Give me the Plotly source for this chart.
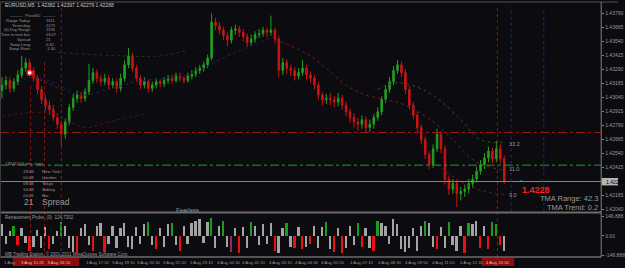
import plotly.graph_objects as go

W, H = 625, 268

# ---------------- data ----------------
open_ = [1.4310,1.4315,1.4319,1.4312,1.4318,1.4324,1.4330,1.4335,1.4328,1.4321,
1.4311,1.4302,1.4297,1.4293,1.4286,1.4280,1.4271,1.4282,1.4295,1.4303,
1.4306,1.4303,1.4309,1.4319,1.4326,1.4321,1.4318,1.4321,1.4315,1.4318,
1.4312,1.4321,1.4333,1.4341,1.4330,1.4321,1.4315,1.4318,1.4312,1.4315,
1.4318,1.4316,1.4319,1.4321,1.4319,1.4323,1.4321,1.4319,1.4323,1.4325,
1.4328,1.4330,1.4333,1.4339,1.4371,1.4368,1.4364,1.4359,1.4355,1.4364,
1.4365,1.4362,1.4358,1.4353,1.4356,1.4360,1.4361,1.4364,1.4362,1.4364,
1.4356,1.4328,1.4335,1.4330,1.4328,1.4323,1.4326,1.4330,1.4324,1.4321,
1.4315,1.4306,1.4302,1.4303,1.4302,1.4300,1.4303,1.4297,1.4291,1.4286,
1.4282,1.4280,1.4284,1.4277,1.4280,1.4286,1.4291,1.4302,1.4311,1.4318,
1.4328,1.4333,1.4326,1.4311,1.4297,1.4288,1.4277,1.4266,1.4253,1.4244,
1.4258,1.4271,1.4258,1.4231,1.4222,1.4227,1.4218,1.4220,1.4222,1.4227,
1.4231,1.4238,1.4244,1.4250,1.4256,1.4249,1.4258,1.4249]
high = [1.4322,1.4323,1.4322,1.4321,1.4328,1.4341,1.4339,1.4338,1.4331,1.4324,
1.4314,1.4306,1.4301,1.4297,1.4290,1.4283,1.4285,1.4298,1.4307,1.4310,
1.4309,1.4312,1.4334,1.4330,1.4329,1.4324,1.4325,1.4324,1.4321,1.4321,
1.4325,1.4337,1.4348,1.4344,1.4333,1.4324,1.4322,1.4320,1.4318,1.4321,
1.4320,1.4322,1.4324,1.4324,1.4326,1.4326,1.4323,1.4326,1.4328,1.4331,
1.4333,1.4336,1.4342,1.4379,1.4375,1.4371,1.4367,1.4362,1.4367,1.4369,
1.4368,1.4365,1.4361,1.4360,1.4363,1.4365,1.4367,1.4366,1.4377,1.4366,
1.4359,1.4339,1.4338,1.4333,1.4331,1.4330,1.4337,1.4333,1.4327,1.4324,
1.4318,1.4309,1.4307,1.4308,1.4305,1.4308,1.4306,1.4300,1.4294,1.4290,
1.4286,1.4288,1.4287,1.4284,1.4289,1.4295,1.4305,1.4315,1.4322,1.4332,
1.4337,1.4336,1.4329,1.4314,1.4300,1.4291,1.4280,1.4269,1.4256,1.4262,
1.4276,1.4274,1.4261,1.4234,1.4231,1.4230,1.4224,1.4226,1.4231,1.4235,
1.4242,1.4248,1.4254,1.4260,1.4259,1.4265,1.4262,1.4252]
low = [1.4303,1.4311,1.4308,1.4309,1.4315,1.4321,1.4327,1.4325,1.4318,1.4307,
1.4298,1.4292,1.4288,1.4283,1.4276,1.4260,1.4267,1.4279,1.4292,1.4299,
1.4299,1.4300,1.4306,1.4316,1.4317,1.4314,1.4315,1.4311,1.4312,1.4308,
1.4309,1.4318,1.4330,1.4327,1.4318,1.4311,1.4312,1.4308,1.4309,1.4312,
1.4313,1.4313,1.4316,1.4316,1.4317,1.4318,1.4316,1.4317,1.4320,1.4322,
1.4325,1.4327,1.4330,1.4337,1.4364,1.4360,1.4355,1.4350,1.4352,1.4360,
1.4358,1.4354,1.4349,1.4350,1.4353,1.4357,1.4358,1.4358,1.4359,1.4352,
1.4322,1.4324,1.4325,1.4323,1.4319,1.4320,1.4323,1.4320,1.4317,1.4311,
1.4302,1.4297,1.4298,1.4297,1.4295,1.4296,1.4293,1.4287,1.4281,1.4277,
1.4274,1.4276,1.4272,1.4273,1.4276,1.4283,1.4288,1.4299,1.4308,1.4315,
1.4325,1.4322,1.4307,1.4293,1.4284,1.4273,1.4262,1.4249,1.4240,1.4241,
1.4255,1.4254,1.4226,1.4217,1.4218,1.4206,1.4212,1.4215,1.4218,1.4223,
1.4228,1.4235,1.4240,1.4246,1.4245,1.4246,1.4245,1.4227]
close = [1.4315,1.4319,1.4312,1.4318,1.4324,1.4330,1.4335,1.4328,1.4321,1.4311,
1.4302,1.4297,1.4293,1.4286,1.4280,1.4271,1.4282,1.4295,1.4303,1.4306,
1.4303,1.4309,1.4319,1.4326,1.4321,1.4318,1.4321,1.4315,1.4318,1.4312,
1.4321,1.4333,1.4341,1.4330,1.4321,1.4315,1.4318,1.4312,1.4315,1.4318,
1.4316,1.4319,1.4321,1.4319,1.4323,1.4321,1.4319,1.4323,1.4325,1.4328,
1.4330,1.4333,1.4339,1.4371,1.4368,1.4364,1.4359,1.4355,1.4364,1.4365,
1.4362,1.4358,1.4353,1.4356,1.4360,1.4361,1.4364,1.4362,1.4364,1.4356,
1.4328,1.4335,1.4330,1.4328,1.4323,1.4326,1.4330,1.4324,1.4321,1.4315,
1.4306,1.4302,1.4303,1.4302,1.4300,1.4303,1.4297,1.4291,1.4286,1.4282,
1.4280,1.4284,1.4277,1.4280,1.4286,1.4291,1.4302,1.4311,1.4318,1.4328,
1.4333,1.4326,1.4311,1.4297,1.4288,1.4277,1.4266,1.4253,1.4244,1.4258,
1.4271,1.4258,1.4231,1.4222,1.4227,1.4218,1.4220,1.4222,1.4227,1.4231,
1.4238,1.4244,1.4250,1.4256,1.4249,1.4258,1.4249,1.42288]
bars = list(range(len(close)))

hist = [90,-60,40,80,-70,60,-50,-110,-80,50,
-90,70,-100,-60,40,110,80,-90,-120,-130,
60,90,-70,-110,75,100,-120,-60,80,-90,
60,100,-80,-100,70,-60,90,110,-70,-100,
60,-80,90,100,-70,-110,80,-60,100,120,
130,-50,110,140,-90,80,120,-80,-120,60,
-130,70,-90,110,80,-70,90,-60,100,-110,
-130,60,100,-80,-90,70,-100,-80,-60,80,
-90,70,110,-100,-120,60,-130,-90,80,-70,
100,-80,60,-90,-110,120,100,80,-60,130,
90,-100,-120,-90,60,-110,80,120,100,-80,
-100,70,-90,110,-70,-110,80,-130,100,90,
120,-90,80,-100,110,90,-70,-110]
hist_class = ("nnngrnnrnn" "nnrnngnnnr" "nnnrnnrnnn" "nnnnnnngnr" "nnngnrnnnn"
              "nnngnngnmn" "rnngnnnnnr" "nngnrnrnrn" "nngnrnrnnn" "grnnrgnnnn"
              "nnnnnnngnn" "rnngnnnrgn" "nrnrggrn")

# indicator lines (bar index, price)
ma_bars = [4, 8, 15, 19, 27, 34, 47, 57, 68]
ma_vals = [1.4317, 1.4322, 1.4314, 1.4306, 1.4311, 1.4318, 1.4324, 1.4341, 1.4357]
tma_mid_bars = [69, 77, 82, 87, 92, 97, 102, 109, 114, 120, 127]
tma_mid_vals = [1.4356, 1.4343, 1.4330, 1.4315, 1.4306, 1.4302, 1.4297, 1.4282, 1.4266, 1.4246, 1.4239]
tma_left_bars = [8, 12, 16]
tma_left_vals = [1.4322, 1.4316, 1.4309]
tma_up_bars = [95, 100, 108, 116, 121, 127]
tma_up_vals = [1.4311, 1.4317, 1.4308, 1.4284, 1.4266, 1.4264]
tma_lo_bars = [110, 115, 120, 127]
tma_lo_vals = [1.4244, 1.4231, 1.4222, 1.4217]
lo_left_bars = [0, 12, 21, 27, 37]
lo_left_vals = [1.4287, 1.4290, 1.4277, 1.4282, 1.4290]
grn_bars = [14, 30, 40, 47]
grn_vals = [1.4344, 1.4341, 1.4341, 1.4346]
dot_bar = [7]
dot_val = [1.4326]

band_labels = ["33.2", "11.0", "9.0"]
band_label_vals = [1.4262, 1.4240, 1.4217]

red_level = 1.42726
green_level = 1.42434
bid = 1.42288
vline_red_bars = [7.25, 10.75, 15, 125.25]
vline_red_tops = [83, 60, 6, 6]
vline_blue_bars = [128.75, 137]

price_ticks = [1.43790, 1.43665, 1.43540, 1.43415, 1.43290, 1.43165, 1.43040,
               1.42915, 1.42790, 1.42665, 1.42540, 1.42415, 1.42165, 1.42040]
ind_ticks = [146.888, 0.0, -146.888]
ind_tick_text = ["146.888", "0.00", "-146.888"]

time_label_bars = [20.75, 27.25, 33.75, 40.25, 47.0, 53.75, 60.25, 67.0, 73.5, 80.25, 87.5, 94.5, 101.5, 108.25, 115.25]
time_labels = ["3 Aug 17:50", "3 Aug 19:10", "3 Aug 20:30", "3 Aug 21:50", "3 Aug 23:10",
               "4 Aug 00:30", "4 Aug 01:50", "4 Aug 03:10", "4 Aug 04:30", "4 Aug 05:50",
               "4 Aug 07:10", "4 Aug 08:30", "4 Aug 09:50", "4 Aug 11:10", "4 Aug 12:30"]

info_labels = ["Range Today:", "Yesterday:", "(6) Day Range:", "Time to next bar:", "Spread:", "Swap Long:", "Swap Short:"]
info_values = ["1611", "2279", "1596", "03:07", "21", "0.30", "-1.30"]
sess_times = ["19:08", "00:08", "08:08", "14:08", "00:01"]
sess_names = ["New York", "London", "Tokyo", "Sidney", "Bar"]

# ---------------- figure ----------------
BG = "#0c0b0f"
GREY = "#9a9a9a"
FONT = "Liberation Sans"

def fx(x):
    return x / W

def fy(y):
    return 1 - y / H

fig = go.Figure()

def dline(xs, ys, color, dash="dot"):
    fig.add_trace(go.Scatter(x=xs, y=ys, mode="lines", line=dict(color=color, width=1, dash=dash, shape="spline"),
                             hoverinfo="skip", showlegend=False, xaxis="x", yaxis="y"))

dline(lo_left_bars, lo_left_vals, "#4a1616")
dline(grn_bars, grn_vals, "#173a17")
dline(ma_bars, ma_vals, "#22226e")
dline(tma_left_bars, tma_left_vals, "#6a1a1a")
dline(tma_mid_bars, tma_mid_vals, "#7a1c1c")
dline(tma_up_bars, tma_up_vals, "#1e5a1e")
dline(tma_lo_bars, tma_lo_vals, "#6a1a1a")

fig.add_trace(go.Candlestick(
    x=bars, open=open_, high=high, low=low, close=close,
    increasing=dict(line=dict(color="#22a022", width=1), fillcolor="#22a022"),
    decreasing=dict(line=dict(color="#cc1414", width=1), fillcolor="#cc1414"),
    whiskerwidth=0, showlegend=False, hoverinfo="skip", xaxis="x", yaxis="y"))

fig.add_trace(go.Scatter(x=dot_bar, y=dot_val, mode="markers",
                         marker=dict(size=5, color="#ffffff", line=dict(color="#ff2020", width=1.5)),
                         showlegend=False, hoverinfo="skip", xaxis="x", yaxis="y"))

cmap = {"n": "#a4a4a4", "g": "#1c9c1c", "r": "#ee1010", "m": "#a0206a"}
fig.add_trace(go.Bar(x=bars, y=hist, marker=dict(color=[cmap[c] for c in hist_class], line=dict(width=0)),
                     width=0.45, showlegend=False, hoverinfo="skip", xaxis="x2", yaxis="y2"))

shapes = []
shapes.append(dict(type="line", xref="paper", yref="y", x0=0, x1=fx(608), y0=red_level, y1=red_level,
                   line=dict(color="#a01818", width=1, dash="dashdot")))
shapes.append(dict(type="line", xref="paper", yref="y", x0=0, x1=fx(608), y0=green_level, y1=green_level,
                   line=dict(color="#1aa01a", width=1, dash="dashdot")))
shapes.append(dict(type="line", xref="paper", yref="y", x0=0, x1=fx(608), y0=bid, y1=bid,
                   line=dict(color="#7a8898", width=1)))
for b, top in zip(vline_red_bars, vline_red_tops):
    shapes.append(dict(type="line", xref="x", yref="paper", x0=b, x1=b, y0=fy(259), y1=fy(top),
                       line=dict(color="#8a1a1a", width=1, dash="dot")))
for b in vline_blue_bars:
    shapes.append(dict(type="line", xref="x", yref="paper", x0=b, x1=b, y0=fy(213), y1=fy(6),
                       line=dict(color="#26268a", width=1, dash="dot")))
shapes.append(dict(type="line", xref="paper", yref="paper", x0=0, x1=1, y0=fy(1), y1=fy(1),
                   line=dict(color="#3c3c3c", width=1.5)))
shapes.append(dict(type="line", xref="paper", yref="paper", x0=fx(608), x1=fx(608), y0=fy(259), y1=fy(1),
                   line=dict(color="#808080", width=1)))
shapes.append(dict(type="line", xref="paper", yref="paper", x0=0, x1=fx(608), y0=fy(214), y1=fy(214),
                   line=dict(color="#6c6c6c", width=2)))
shapes.append(dict(type="line", xref="paper", yref="paper", x0=0, x1=fx(608), y0=fy(259), y1=fy(259),
                   line=dict(color="#6c6c6c", width=1.5)))
shapes.append(dict(type="line", xref="paper", yref="paper", x0=fx(0.5), x1=fx(0.5), y0=fy(259), y1=fy(1),
                   line=dict(color="#3c3c3c", width=1)))
shapes.append(dict(type="rect", xref="paper", yref="paper", x0=fx(13), x1=fx(80), y0=fy(268), y1=fy(260),
                   fillcolor="#8c0c0c", line=dict(width=0)))
shapes.append(dict(type="rect", xref="paper", yref="paper", x0=fx(487), x1=fx(520), y0=fy(268), y1=fy(260),
                   fillcolor="#8c0c0c", line=dict(width=0)))
shapes.append(dict(type="rect", xref="paper", yref="paper", x0=fx(608.5), x1=fx(625), y0=fy(186.5), y1=fy(179),
                   fillcolor="#b4b4b4", line=dict(width=0)))

ann = []
def T(x, y, s, size=5, color=GREY, xa="left", ya="middle", xref="paper", yref="paper"):
    ann.append(dict(x=fx(x) if xref == "paper" else x, y=fy(y) if yref == "paper" else y,
                    xref=xref, yref=yref, text=s,
                    showarrow=False, xanchor=xa, yanchor=ya,
                    font=dict(family=FONT, size=size, color=color)))

T(3, 4.5, "EURUSD,M5  1.42382 1.42397 1.42279 1.42288", 5, "#c8c8c8")
T(33, 15, "———  Pivot3D  ———", 4.3, GREY, xa="center")
for k, (lab, val) in enumerate(zip(info_labels, info_values)):
    yy = 19.5 + k * 4.8
    T(33, yy, lab, 4, GREY, xa="right")
    T(44, yy, val, 4, GREY)
T(3, 164, "#3641106 info  start", 4.3, GREY)
for k, (t, n) in enumerate(zip(sess_times, sess_names)):
    yy = 172.7 + k * 6
    T(36, yy, t, 4.3, GREY, xa="right")
    T(40, yy, n, 4.3, GREY)
T(36, 203.5, "21", 8.5, GREY, xa="right")
T(40, 203.5, "Spread", 8.5, GREY)

for s, v in zip(band_labels, band_label_vals):
    T(127.6, v, s, 5.5, GREY, xref="x", yref="y")
ann.append(dict(x=131, y=bid, xref="x", yref="y", text="<b>1.4228</b>", showarrow=False, xanchor="left",
                yanchor="top", yshift=-1, font=dict(family=FONT, size=9, color="#ff1c1c")))
T(524, 183, "*", 5, GREY)
T(607, 200, "TMA Range: 42.3", 7.5, GREY, xa="right")
T(607, 209, "TMA Trend: 0.2", 7.5, GREY, xa="right")
T(190, 211, "Fearless", 6, GREY, xa="center")
T(3, 219, "Retracement Probe  (9)  124.7302", 4.5, GREY)
T(3, 256, "MB Trading Station, © 2001-2011 MetaQuotes Software Corp.", 4.5, GREY)
T(611, 183, "1.42288", 5, "#000000")

T(2, 264, "1 Aug", 4.3, GREY)
for b, s in zip(time_label_bars, time_labels):
    ann.append(dict(x=b, y=fy(264), xref="x2", yref="paper", text=s, showarrow=False, xanchor="left",
                    yanchor="middle", font=dict(family=FONT, size=4.3, color=GREY)))
T(46.5, 264, "3 Aug 15:25   3 Aug 16:10", 4.3, "#d8c8c8", xa="center")
T(503.5, 264, "4 Aug 13:50", 4.3, "#d8c8c8", xa="center")

fig.update_layout(
    width=W, height=H, margin=dict(l=0, r=0, t=0, b=0),
    paper_bgcolor=BG, plot_bgcolor=BG, showlegend=False, boxgap=0.45,
    bargap=0, barmode="overlay",
    font=dict(family=FONT, size=5, color=GREY),
    shapes=shapes, annotations=ann,
    xaxis=dict(domain=[0, 608 / W], range=[-0.5, 151.5], visible=False, rangeslider=dict(visible=False),
               fixedrange=True),
    yaxis=dict(domain=[fy(214), fy(2)], range=[1.4390 - 0.0000883 * 214, 1.4390 - 0.0000883 * 2],
               side="right", anchor="x", showgrid=False, zeroline=False, tickvals=price_ticks,
               ticktext=["%.5f" % v for v in price_ticks], ticks="outside", ticklen=2, tickcolor="#808080",
               tickfont=dict(family=FONT, size=5, color=GREY)),
    xaxis2=dict(domain=[0, 608 / W], range=[-0.5, 151.5], visible=False, anchor="y2"),
    yaxis2=dict(domain=[fy(258), fy(216)], range=[-154.4, 161.95], side="right", anchor="x2",
                showgrid=False, zeroline=False, tickvals=ind_ticks, ticktext=ind_tick_text,
                ticks="outside", ticklen=2, tickcolor="#808080",
                tickfont=dict(family=FONT, size=5, color=GREY)),
)

fig.write_html("out.html")
